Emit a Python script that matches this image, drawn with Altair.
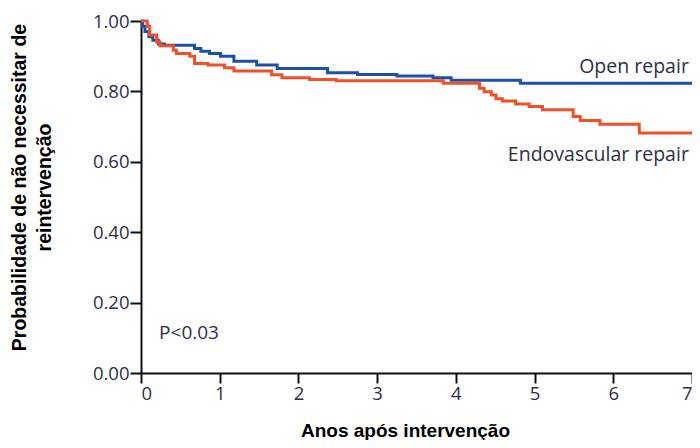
import altair as alt
import pandas as pd

# Kaplan-Meier style step curves (time in years, survival free of reintervention)
open_t = [0, 0.02, 0.05, 0.10, 0.15, 0.22, 0.30, 0.68, 0.76, 0.87, 1.01, 1.18, 1.47,
          1.73, 2.37, 2.75, 3.25, 3.71, 3.94, 4.82, 7.0]
open_s = [1.0, 0.985, 0.97, 0.955, 0.945, 0.935, 0.931, 0.922, 0.914, 0.908, 0.900,
          0.886, 0.875, 0.865, 0.853, 0.848, 0.844, 0.839, 0.832, 0.823, 0.823]

endo_t = [0, 0.08, 0.11, 0.20, 0.24, 0.41, 0.45, 0.62, 0.68, 0.85, 1.06, 1.18, 1.66,
          1.79, 2.14, 2.48, 3.84, 4.30, 4.36, 4.45, 4.51, 4.59, 4.76, 4.93, 5.10,
          5.49, 5.58, 5.83, 6.33, 7.0]
endo_s = [1.0, 0.985, 0.96, 0.94, 0.93, 0.917, 0.908, 0.900, 0.879, 0.875, 0.867,
          0.858, 0.847, 0.839, 0.834, 0.830, 0.823, 0.809, 0.799, 0.790, 0.779,
          0.773, 0.764, 0.757, 0.748, 0.729, 0.717, 0.707, 0.682, 0.682]

curve_labels = ["Open repair", "Endovascular repair"]
curve_label_t = [6.96, 6.96]
curve_label_s = [0.851, 0.602]

p_label = ["P<0.03"]
p_label_t = [0.23]
p_label_s = [0.096]

x_ticks = [0, 1, 2, 3, 4, 5, 6, 7]
y_ticks = [i / 10 for i in range(11)]

open_df = pd.DataFrame({"t": open_t, "s": open_s})
endo_df = pd.DataFrame({"t": endo_t, "s": endo_s})
lab_df = pd.DataFrame({"label": curve_labels, "t": curve_label_t, "s": curve_label_s})
p_df = pd.DataFrame({"label": p_label, "t": p_label_t, "s": p_label_s})

TXT = "#2e2e48"

x_enc = alt.X(
    "t:Q",
    scale=alt.Scale(domain=[0, 7], nice=False, zero=False),
    axis=alt.Axis(
        values=x_ticks, format="d", grid=False,
        tickSize=10, tickWidth=2, tickColor="#111", domainColor="#111", domainWidth=2,
        labelFont="Open Sans", labelFontSize=18.5, labelColor=TXT, labelPadding=1,
        title="Anos após intervenção", titleFont="Liberation Sans", titleFontSize=19,
        titleFontWeight="bold", titleColor="black", titleX=264, titleY=63,
        titleAlign="center", titleBaseline="alphabetic",
    ),
)
y_enc = alt.Y(
    "s:Q",
    scale=alt.Scale(domain=[0, 1], nice=False, zero=False),
    axis=alt.Axis(
        values=y_ticks, grid=False,
        labelExpr="(round(datum.value*10) % 2 == 0) ? format(datum.value, '.2f') : ''",
        tickSize=11, tickWidth=2, tickColor="#111", domainColor="#111", domainWidth=2,
        labelFont="Open Sans", labelFontSize=18.5, labelColor=TXT, labelPadding=1,
        title=["Probabilidade de não necessitar de", "reintervenção"],
        titleFont="Liberation Sans", titleFontSize=19.5, titleFontWeight="bold",
        titleColor="black", titleAngle=-90, titleX=-131, titleY=166,
        titleAlign="center", titleBaseline="top", titleLineHeight=25,
    ),
)

open_line = alt.Chart(open_df).mark_line(
    interpolate="step-after", color="#1e50aa", strokeWidth=3
).encode(x=x_enc, y=y_enc)

endo_line = alt.Chart(endo_df).mark_line(
    interpolate="step-after", color="#f05028", strokeWidth=3
).encode(x="t:Q", y="s:Q")

text = alt.Chart(lab_df).mark_text(
    align="right", baseline="alphabetic", font="Open Sans", fontSize=19.5, color=TXT
).encode(x="t:Q", y="s:Q", text="label:N")

ptext = alt.Chart(p_df).mark_text(
    align="left", baseline="alphabetic", font="Open Sans", fontSize=19, color=TXT
).encode(x="t:Q", y="s:Q", text="label:N")

chart = alt.layer(open_line, endo_line, text, ptext).properties(
    width=551, height=352,
    autosize=alt.AutoSizeParams(type="none"),
    padding={"left": 133, "top": 13, "right": 0, "bottom": 67},
).configure_view(stroke=None)

chart.save("out.html", embed_options={"renderer": "svg", "actions": False})
